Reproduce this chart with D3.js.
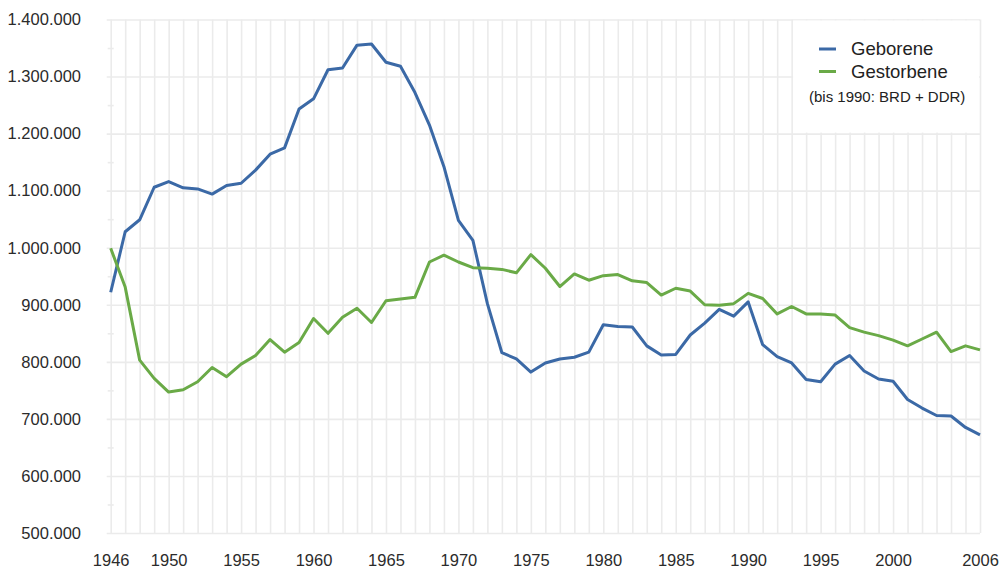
<!DOCTYPE html>
<html>
<head>
<meta charset="utf-8">
<script src="https://cdn.jsdelivr.net/npm/d3@7"></script>
<style>
  html, body { margin: 0; padding: 0; background: #fff; }
  svg { display: block; font-family: "Liberation Sans", Arial, sans-serif; }
</style>
</head>
<body>
<svg id="chart" width="1003" height="571"></svg>
<script>
// Lebendgeborene und Gestorbene in Deutschland, 1946–2006
const years = d3.range(1946, 2007);

const geborene = [
  922000, 1028000, 1049000, 1106000, 1116000, 1105000, 1103000, 1094000, 1109000, 1113000,
  1136000, 1164000, 1175000, 1243000, 1261000, 1312000, 1315000, 1355000, 1357000, 1325000,
  1318000, 1272000, 1215000, 1142000, 1048000, 1013000, 902000, 816000, 805000, 782000,
  798000, 805000, 808000, 817000, 865000, 862000, 861000, 828000, 812000, 813000,
  847000, 868000, 892000, 880000, 905000, 830000, 809000, 798000, 769000, 765000,
  796000, 811000, 784000, 770000, 766000, 734000, 719000, 706000, 705000, 685000,
  672000
];

const gestorbene = [
  999000, 931000, 803000, 771000, 747000, 751000, 765000, 790000, 774000, 796000,
  811000, 839000, 817000, 834000, 876000, 850000, 878000, 894000, 869000, 907000,
  910000, 913000, 975000, 987000, 975000, 965000, 964000, 962000, 956000, 988000,
  964000, 932000, 954000, 943000, 951000, 953000, 942000, 939000, 917000, 929000,
  924000, 900000, 899000, 902000, 920000, 911000, 884000, 897000, 884000, 884000,
  882000, 860000, 852000, 846000, 838000, 828000, 840000, 852000, 818000, 828000,
  821000
];

const seriesNames = ["Geborene", "Gestorbene"];
const seriesColors = ["#3b69a6", "#6aaa47"];
const legendNote = "(bis 1990: BRD + DDR)";

const xTickLabels = [1946, 1950, 1955, 1960, 1965, 1970, 1975, 1980, 1985, 1990, 1995, 2000, 2006];
const yTicks = [500000, 600000, 700000, 800000, 900000, 1000000, 1100000, 1200000, 1300000, 1400000];
const yMinorTicks = [550000, 650000, 750000, 850000, 950000, 1050000, 1150000, 1250000, 1350000];

const de = d3.formatLocale({ decimal: ",", thousands: ".", grouping: [3], currency: ["", " €"] });
const fmt = de.format(",d");

const svg = d3.select("#chart");
const plot = { left: 110.7, right: 980, top: 19.5, bottom: 533 };

const x = d3.scaleLinear().domain([1946, 2006]).range([plot.left, plot.right]);
const y = d3.scaleLinear().domain([500000, 1400000]).range([plot.bottom, plot.top]);

const gridColor = "#ebebeb";
const labelFont = "'Liberation Sans', Arial, sans-serif";

// vertical grid: one line per year
svg.append("g")
  .attr("transform", `translate(0,${plot.bottom})`)
  .call(d3.axisBottom(x).tickValues(years).tickSize(-(plot.bottom - plot.top)).tickFormat(""))
  .call(g => g.select(".domain").remove())
  .call(g => g.selectAll("line").attr("stroke", gridColor).attr("stroke-width", 1.6));

// horizontal grid
svg.append("g")
  .attr("transform", `translate(${plot.right},0)`)
  .call(d3.axisLeft(y).tickValues(yTicks).tickSize(plot.right - plot.left + 4).tickFormat(""))
  .call(g => g.select(".domain").remove())
  .call(g => g.selectAll("line").attr("stroke", gridColor).attr("stroke-width", 1.6));

// minor ticks on the value axis
svg.append("g")
  .attr("transform", `translate(${plot.left + 3},0)`)
  .call(d3.axisLeft(y).tickValues(yMinorTicks).tickSize(6).tickFormat(""))
  .call(g => g.select(".domain").remove())
  .call(g => g.selectAll("line").attr("stroke", gridColor).attr("stroke-width", 1.6));

// y axis labels
svg.append("g")
  .attr("transform", `translate(${plot.left},0)`)
  .call(d3.axisLeft(y).tickValues(yTicks).tickSize(0).tickPadding(29.7).tickFormat(fmt))
  .call(g => g.select(".domain").remove())
  .call(g => g.selectAll("text")
    .attr("fill", "#2b2b2b").style("font-size", "16.5px").style("font-family", labelFont));

// x axis labels
svg.append("g")
  .attr("transform", `translate(0,${plot.bottom})`)
  .call(d3.axisBottom(x).tickValues(xTickLabels).tickSize(0).tickPadding(21).tickFormat(d3.format("d")))
  .call(g => g.select(".domain").remove())
  .call(g => g.selectAll("text")
    .attr("fill", "#2b2b2b").style("font-size", "16.5px").style("font-family", labelFont));

// legend panel covers the grid in the upper right corner
const legendBox = { x0: 1993.1, x1: 2006, v0: 1400000, v1: 1200000 };
svg.append("rect")
  .attr("x", x(legendBox.x0))
  .attr("y", y(legendBox.v0) + 1)
  .attr("width", x(legendBox.x1) - x(legendBox.x0) - 1)
  .attr("height", y(legendBox.v1) - y(legendBox.v0) - 2)
  .attr("fill", "#fff");

// data lines
const line = d3.line().x((d, i) => x(years[i])).y(d => y(d));
[geborene, gestorbene].forEach((vals, k) => {
  svg.append("path")
    .datum(vals)
    .attr("fill", "none")
    .attr("stroke", seriesColors[k])
    .attr("stroke-width", 3)
    .attr("stroke-linejoin", "round")
    .attr("d", line);
});

// legend entries
const legend = svg.append("g").attr("transform", "translate(819,49)");
seriesNames.forEach((name, i) => {
  const row = legend.append("g").attr("transform", `translate(0,${i * 22.5})`);
  row.append("line").attr("x1", 0).attr("x2", 17).attr("y1", 0).attr("y2", 0)
    .attr("stroke", seriesColors[i]).attr("stroke-width", 3);
  row.append("text").attr("x", 32).attr("y", 6.2)
    .attr("fill", "#222").style("font-size", "18.5px").text(name);
});
legend.append("text")
  .attr("x", -10).attr("y", 53)
  .attr("fill", "#222").style("font-size", "15px").text(legendNote);
</script>
</body>
</html>
